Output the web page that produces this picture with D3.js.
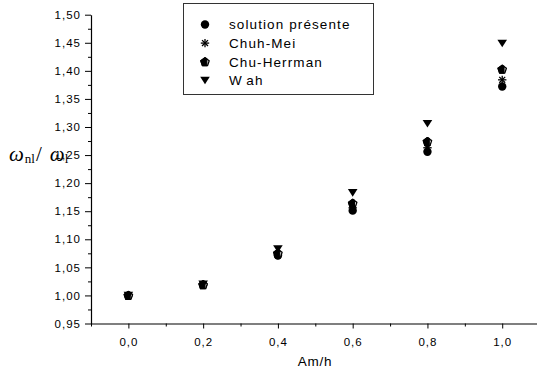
<!DOCTYPE html>
<html>
<head>
<meta charset="utf-8">
<script src="https://cdn.jsdelivr.net/npm/d3@7"></script>
<style>
  body { margin: 0; background: #fff; }
  svg { display: block; }
  .tick text { font-family: "Liberation Sans", Arial, sans-serif; }
</style>
</head>
<body>
<svg id="chart"></svg>
<script>
const amh = [0.0, 0.2, 0.4, 0.6, 0.8, 1.0];
const solution = [1.000, 1.019, 1.071, 1.151, 1.256, 1.372];
const chuhMei = [1.000, 1.019, 1.072, 1.156, 1.263, 1.384];
const chuHerrman = [1.000, 1.019, 1.075, 1.164, 1.274, 1.403];
const wah = [1.000, 1.020, 1.083, 1.183, 1.306, 1.449];
const legendNames = ['solution présente', 'Chuh-Mei', 'Chu-Herrman', 'Wah'];
const xTicks = [0.0, 0.2, 0.4, 0.6, 0.8, 1.0];
const yTicks = [0.95, 1.00, 1.05, 1.10, 1.15, 1.20, 1.25, 1.30, 1.35, 1.40, 1.45, 1.50];

const width = 537;
const height = 370;

const svg = d3.select('#chart')
    .attr('width', width)
    .attr('height', height);

const xScale = d3.scaleLinear()
    .domain([-0.1, 1.1])
    .range([91, 539.6]);

const yScale = d3.scaleLinear()
    .domain([0.95, 1.50])
    .range([323.5, 14.7]);

const fmt = d => d3.format(',.2f')(d).replace('.', ',');
const fmtX = d => d3.format('.1f')(d).replace('.', ',');

// minor ticks first
svg.append('g')
    .attr('transform', 'translate(0,' + yScale(0.95) + ')')
    .call(d3.axisBottom(xScale).tickValues(d3.range(-0.1, 1.15, 0.2)).tickSize(3).tickFormat(''))
    .call(g => g.select('.domain').remove());

svg.append('g')
    .attr('transform', 'translate(' + xScale(-0.1) + ',0)')
    .call(d3.axisLeft(yScale).tickValues(d3.range(0.975, 1.5, 0.05)).tickSize(3).tickFormat(''))
    .call(g => g.select('.domain').remove());

const xAxis = svg.append('g')
    .attr('transform', 'translate(0,' + yScale(0.95) + ')')
    .call(d3.axisBottom(xScale).tickValues(xTicks).tickSize(5).tickPadding(9).tickSizeOuter(0).tickFormat(fmtX));

const yAxis = svg.append('g')
    .attr('transform', 'translate(' + xScale(-0.1) + ',0)')
    .call(d3.axisLeft(yScale).tickValues(yTicks).tickSize(6).tickPadding(4).tickSizeOuter(0).tickFormat(fmt));

svg.selectAll('.domain').attr('stroke', '#000').attr('stroke-width', 1.2);
svg.selectAll('.tick line').attr('stroke', '#000');
svg.selectAll('.tick text')
    .attr('font-size', 11.5)
    .attr('letter-spacing', 1)
    .attr('fill', '#000');

// axis titles
svg.append('text')
    .attr('x', 315)
    .attr('y', 366)
    .attr('text-anchor', 'middle')
    .attr('font-family', 'Liberation Sans, Arial, sans-serif')
    .attr('font-size', 13.5)
    .attr('letter-spacing', 0.7)
    .text('Am/h');

const yl = svg.append('text')
    .attr('x', 9)
    .attr('y', 161)
    .attr('font-family', 'Liberation Serif, Times New Roman, serif')
    .attr('font-size', 21);
yl.append('tspan').attr('font-style', 'italic').text('ω');
yl.append('tspan').attr('font-size', 13).attr('dx', 1).attr('dy', 2).text('nl');
yl.append('tspan').attr('dx', 1).attr('dy', -2).text('/');
yl.append('tspan').attr('font-style', 'italic').attr('dx', 8).text('ω');
yl.append('tspan').attr('font-size', 13).attr('dy', 2).text('l');

// markers
const drawCircle = (g, x, y) => g.append('circle')
    .attr('cx', x).attr('cy', y).attr('r', 4.2).attr('fill', '#000');

const drawStar = (g, x, y) => {
    const r = 4.2;
    [0, 45, 90, 135].forEach(a => {
        const t = a * Math.PI / 180;
        g.append('line')
            .attr('x1', x - r * Math.cos(t)).attr('y1', y - r * Math.sin(t))
            .attr('x2', x + r * Math.cos(t)).attr('y2', y + r * Math.sin(t))
            .attr('stroke', '#000').attr('stroke-width', 1.3);
    });
};

const pent = (x, y, r) => d3.range(5).map(i => {
    const t = -Math.PI / 2 + i * 2 * Math.PI / 5;
    return [x + r * Math.cos(t), y + r * Math.sin(t)];
});

const drawHerrman = (g, x, y) => {
    const p = pent(x, y + 0.4, 4.4);
    g.append('path')
        .attr('d', 'M' + p.join('L') + 'Z')
        .attr('fill', '#fff').attr('stroke', '#000').attr('stroke-width', 1.3).attr('stroke-linejoin', 'round');
    const h = [p[0], [x + 1.8, p[0][1] + 1], [x + 1.8, p[2][1]], p[3], p[4]];
    g.append('path')
        .attr('d', 'M' + h.join('L') + 'Z')
        .attr('fill', '#000').attr('stroke', '#000').attr('stroke-width', 1.2).attr('stroke-linejoin', 'round');
};

const drawTri = (g, x, y) => g.append('path')
    .attr('d', 'M' + (x - 4.8) + ',' + (y - 3.6) + 'L' + (x + 4.8) + ',' + (y - 3.6) + 'L' + x + ',' + (y + 4) + 'Z')
    .attr('fill', '#000');

const series = [
    { values: solution, draw: drawCircle },
    { values: chuhMei, draw: drawStar },
    { values: chuHerrman, draw: drawHerrman },
    { values: wah, draw: drawTri }
];

const marks = svg.append('g');
series.forEach(s => {
    amh.forEach((a, i) => s.draw(marks, xScale(a), yScale(s.values[i])));
});

// legend
const legend = svg.append('g');
legend.append('rect')
    .attr('x', 183.5).attr('y', 3.5)
    .attr('width', 190).attr('height', 91)
    .attr('fill', '#fff').attr('stroke', '#333').attr('stroke-width', 1);

legendNames.forEach((name, i) => {
    const cy = 24.5 + i * 18.6;
    series[i].draw(legend, 205, cy);
    const t = legend.append('text')
        .attr('x', 229)
        .attr('y', cy + 4.8)
        .attr('font-family', 'Liberation Sans, Arial, sans-serif')
        .attr('font-size', 13.5)
        .attr('letter-spacing', 1.1);
    if (name === 'Wah') {
        t.append('tspan').text('W');
        t.append('tspan').attr('dx', 4).text('ah');
    } else {
        t.text(name);
    }
});
</script>
</body>
</html>
